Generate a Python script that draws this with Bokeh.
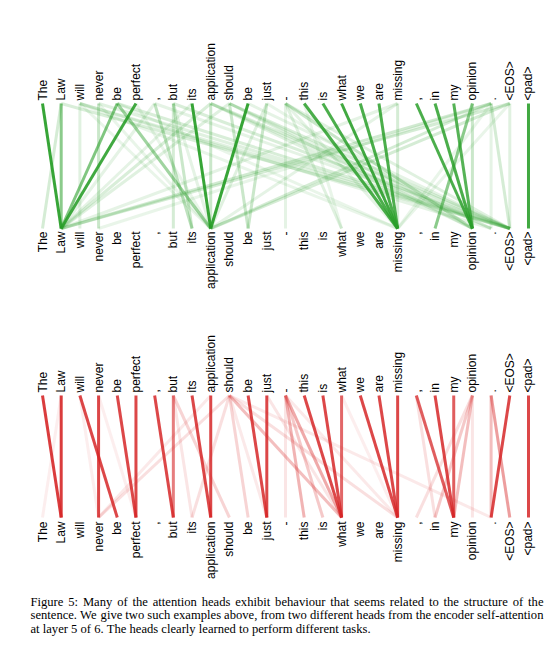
import numpy as np
from bokeh.plotting import figure
from bokeh.models import Range1d
from bokeh.embed import file_html
from bokeh.resources import INLINE
from bokeh.core.properties import value

tokens = ["The", "Law", "will", "never", "be", "perfect", ",", "but", "its",
          "application", "should", "be", "just", "-", "this", "is", "what",
          "we", "are", "missing", ",", "in", "my", "opinion", ".", "<EOS>", "<pad>"]

# top head (green): query token (top) -> attended token (bottom), weight
green_src = [0, 1, 4, 5, 8, 11, 14, 15, 16, 17, 18, 20, 21, 22, 26,
             23, 4, 6, 7, 7, 9, 10, 12, 12, 13, 13, 19, 23, 24, 25, 24, 3, 2, 1,
             1, 2, 3, 4, 7, 9, 10, 13, 2, 9, 10, 2, 4, 9, 10, 13, 6,
             24, 25, 24, 25, 19, 19, 24, 9, 10, 8, 6, 7, 2, 3, 5, 13, 13, 14, 11, 12, 25, 24]
green_dst = [1, 1, 1, 1, 9, 9, 19, 19, 19, 19, 19, 23, 23, 23, 26,
             21, 9, 8, 8, 7, 9, 11, 11, 9, 16, 13, 19, 23, 25, 25, 24, 3, 2, 0,
             25, 25, 25, 25, 25, 25, 25, 25, 24, 24, 24, 19, 19, 23, 23, 23, 25,
             1, 1, 9, 9, 1, 9, 3, 1, 1, 1, 1, 9, 9, 9, 9, 19, 23, 16, 25, 23, 19, 19]
green_w = [0.95, 0.55, 0.6, 0.9, 0.95, 0.95, 0.85, 0.85, 0.9, 0.85, 0.85, 0.85, 0.85, 0.8, 0.9,
           0.55, 0.45, 0.3, 0.25, 0.2, 0.25, 0.25, 0.25, 0.15, 0.15, 0.12, 0.2, 0.25, 0.2, 0.15, 0.12, 0.25, 0.15, 0.2,
           0.18, 0.15, 0.15, 0.18, 0.18, 0.18, 0.18, 0.15, 0.12, 0.12, 0.12, 0.1, 0.1, 0.15, 0.15, 0.15, 0.12,
           0.22, 0.2, 0.2, 0.2, 0.12, 0.12, 0.1, 0.18, 0.15, 0.12, 0.12, 0.12, 0.1, 0.1, 0.1, 0.12, 0.12, 0.1, 0.12, 0.1, 0.1, 0.1]

# second head (red)
red_src = [0, 1, 2, 3, 4, 5, 6, 7, 8, 9, 11, 12, 14, 15, 16, 17, 18, 19, 20, 21, 22, 24, 25, 26,
           10, 10, 10, 10, 10, 10, 7, 7, 13, 13, 13, 13, 12, 16, 20, 23, 23, 23, 23, 1, 2, 3, 9, 24, 13, 10]
red_dst = [1, 1, 4, 3, 5, 5, 7, 7, 9, 9, 12, 12, 16, 16, 16, 19, 19, 19, 22, 22, 22, 25, 24, 26,
           3, 8, 11, 16, 19, 24, 10, 8, 14, 15, 16, 13, 16, 19, 21, 21, 20, 22, 23, 0, 3, 5, 3, 24, 19, 12]
red_w = [0.9, 0.9, 0.85, 0.85, 0.85, 0.85, 0.85, 0.6, 0.85, 0.85, 0.85, 0.85, 0.85, 0.85, 0.7, 0.85, 0.85, 0.85, 0.75, 0.85, 0.75, 0.45, 0.85, 0.85,
         0.15, 0.15, 0.2, 0.3, 0.15, 0.1, 0.2, 0.12, 0.35, 0.25, 0.4, 0.12, 0.12, 0.08, 0.15, 0.25, 0.15, 0.3, 0.12, 0.08, 0.08, 0.08, 0.1, 0.3, 0.1, 0.1]

caption_lines = [
    "Figure 5: Many of the attention heads exhibit behaviour that seems related to the structure of the",
    "sentence. We give two such examples above, from two different heads from the encoder self-attention",
    "at layer 5 of 6. The heads clearly learned to perform different tasks.",
]

W, H = 549, 647
step = 18.692
x0_px = 42.0
xs = -x0_px / step

p = figure(width=W, height=H, output_backend="svg", toolbar_location=None,
           x_range=Range1d(xs, xs + W / step), y_range=Range1d(H, 0),
           x_axis_location=None, y_axis_location=None, min_border=0)
p.outline_line_color = None
p.grid.visible = False
p.background_fill_color = "white"

idx = list(range(len(tokens)))
font = value("Liberation Sans")


def panel(src, dst, w, color, lab_top, y_top, y_bot, lab_bot):
    p.segment(x0=src, y0=[y_top] * len(src), x1=dst, y1=[y_bot] * len(dst),
              line_color=color, line_alpha=w, line_width=3)
    p.text(x=idx, y=[lab_top] * len(idx), text=tokens, angle=np.pi / 2,
           text_align="left", text_baseline="middle", text_font=font,
           text_font_size="12px", text_color="black")
    p.text(x=idx, y=[lab_bot] * len(idx), text=tokens, angle=np.pi / 2,
           text_align="right", text_baseline="middle", text_font=font,
           text_font_size="12px", text_color="black")


panel(green_src, green_dst, green_w, "#2ca02c", 100, 103, 228, 231)
panel(red_src, red_dst, red_w, "#d62728", 392, 395, 517, 521)

# ---- justified caption (Times metrics, per 1000 em) ----
tw = {' ': 250, 'a': 444, 'b': 500, 'c': 444, 'd': 500, 'e': 444, 'f': 333, 'g': 500,
      'h': 500, 'i': 278, 'j': 278, 'k': 500, 'l': 278, 'm': 778, 'n': 500, 'o': 500,
      'p': 500, 'q': 500, 'r': 333, 's': 389, 't': 278, 'u': 500, 'v': 500, 'w': 722,
      'x': 500, 'y': 500, 'z': 444, 'F': 556, 'M': 889, 'W': 944, 'T': 611, ':': 278,
      '.': 250, ',': 250, '-': 333}
fs = 12.6
left_px, right_px = 30.0, 543.0
base_y = [601, 614.5, 628]


def wwidth(s):
    return sum(tw.get(c, 500) for c in s) / 1000.0 * fs


cx, cy, ct = [], [], []
for li, line in enumerate(caption_lines):
    words = line.split(" ")
    widths = [wwidth(w_) for w_ in words]
    if li < len(caption_lines) - 1:
        gap = (right_px - left_px - sum(widths)) / (len(words) - 1)
    else:
        gap = wwidth(" ")
    xpos = left_px
    for w_, wd in zip(words, widths):
        cx.append(xs + xpos / step)
        cy.append(base_y[li])
        ct.append(w_)
        xpos += wd + gap

p.text(x=cx, y=cy, text=ct, text_align="left", text_baseline="alphabetic",
       text_font=value("Liberation Serif"), text_font_size=f"{fs}px", text_color="black")

open("out.html", "w").write(file_html(p, INLINE))
